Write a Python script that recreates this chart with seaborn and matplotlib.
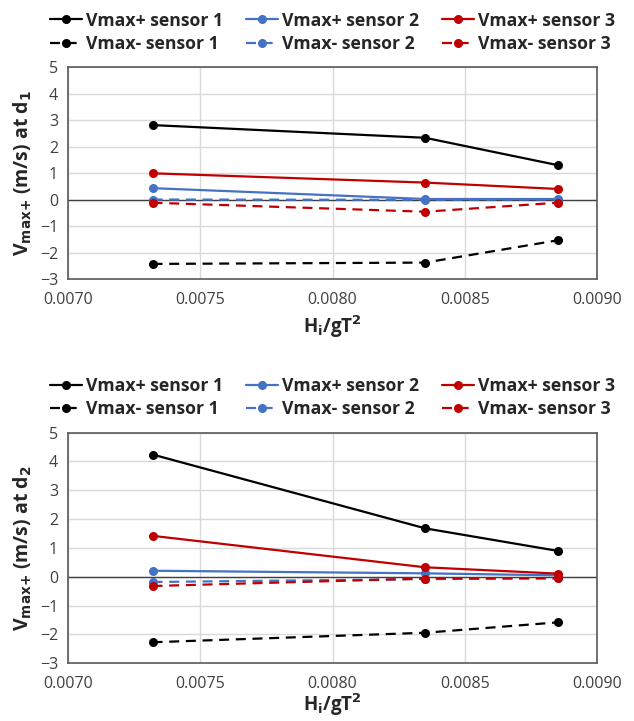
import numpy as np
import pandas as pd
import matplotlib
matplotlib.use("Agg")
import matplotlib.pyplot as plt
import seaborn as sns

# x values (Hi/gT^2)
hi_gt2 = [0.00732, 0.00835, 0.00885]

# panel d1
d1_pos_s1 = [2.81, 2.33, 1.30]
d1_pos_s2 = [0.43, 0.02, 0.02]
d1_pos_s3 = [0.99, 0.64, 0.40]
d1_neg_s1 = [-2.43, -2.38, -1.54]
d1_neg_s2 = [0.00, -0.01, 0.00]
d1_neg_s3 = [-0.12, -0.46, -0.12]

# panel d2
d2_pos_s1 = [4.24, 1.68, 0.90]
d2_pos_s2 = [0.21, 0.12, 0.05]
d2_pos_s3 = [1.42, 0.33, 0.11]
d2_neg_s1 = [-2.27, -1.94, -1.58]
d2_neg_s2 = [-0.18, -0.08, -0.05]
d2_neg_s3 = [-0.32, -0.06, -0.05]

sensor_colors = ["#000000", "#4472C4", "#C00000"]

sns.set_style("white")
plt.rcParams["font.family"] = ["Open Sans", "DejaVu Sans"]

fig = plt.figure(figsize=(6.34, 7.21), dpi=100)
ax1 = fig.add_axes([0.107, 0.613, 0.835, 0.294])
ax2 = fig.add_axes([0.107, 0.080, 0.835, 0.320])


def draw_panel(ax, pos, neg, ylabel, xpad):
    handles = []
    for i in range(3):
        for vals, dashed, tag in [(pos[i], False, "+"), (neg[i], True, "-")]:
            sns.lineplot(x=hi_gt2, y=vals, ax=ax, color=sensor_colors[i],
                         marker="o", markersize=6.5,
                         markeredgewidth=0, linewidth=1.6)
            ln = ax.lines[-1]
            if dashed:
                ln.set_dashes((4.5, 3))
            ln.set_label(f"Vmax{tag} sensor {i + 1}")
            handles.append(ln)
    ax.axhline(0, color="#404040", linewidth=1.0, zorder=1)
    ax.set_xlim(0.0070, 0.0090)
    ax.set_ylim(-3, 5)
    ticks = np.arange(0.0070, 0.00901, 0.0005)
    ax.set_xticks(ticks)
    ax.set_xticklabels([f"{v:.4f}" for v in ticks])
    ax.set_yticks(range(-3, 6))
    ax.grid(True, color="#d9d9d9", linewidth=1.0)
    ax.set_axisbelow(True)
    for sp in ax.spines.values():
        sp.set_color("#595959")
        sp.set_linewidth(1.2)
    ax.tick_params(labelsize=11.5, colors="#404040", length=0)
    ax.tick_params(axis="x", pad=9)
    ax.tick_params(axis="y", pad=7)
    ax.set_ylabel(ylabel, fontsize=14, fontweight="bold", labelpad=4)
    ax.set_xlabel("H$_\\mathbf{i}$/gT$^\\mathbf{2}$", fontsize=13.5,
                  fontweight="bold", labelpad=xpad)
    ax.legend(handles=handles, ncol=3, loc="lower center", numpoints=1,
              bbox_to_anchor=(0.5, 1.0), frameon=False,
              prop={"size": 12.7, "weight": "bold"},
              handlelength=1.8, handletextpad=0.25, columnspacing=1.3,
              borderaxespad=0.4, labelspacing=0.3)


draw_panel(ax1, [d1_pos_s1, d1_pos_s2, d1_pos_s3],
           [d1_neg_s1, d1_neg_s2, d1_neg_s3],
           "V$_\\mathbf{max{+}}$ (m/s) at d$_\\mathbf{1}$", 4)
draw_panel(ax2, [d2_pos_s1, d2_pos_s2, d2_pos_s3],
           [d2_neg_s1, d2_neg_s2, d2_neg_s3],
           "V$_\\mathbf{max{+}}$ (m/s) at d$_\\mathbf{2}$", 0)

fig.savefig("out.png", dpi=100)
